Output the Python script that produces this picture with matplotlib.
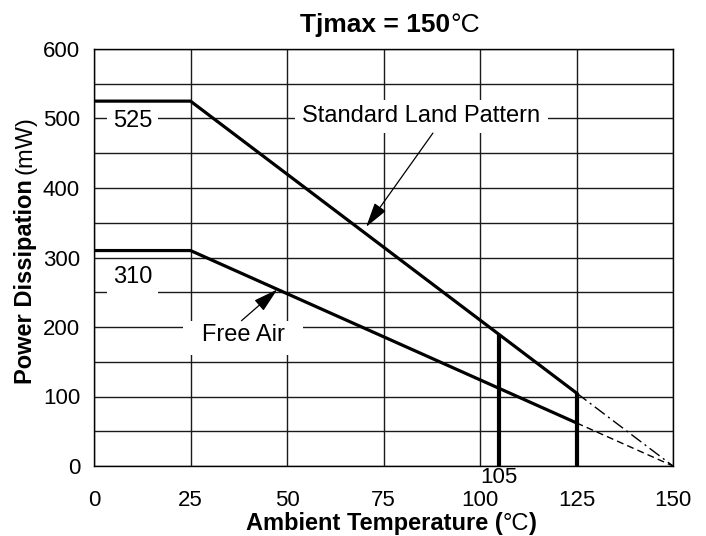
import matplotlib
matplotlib.use("Agg")
from matplotlib import pyplot as plt
from matplotlib.patches import Rectangle
from matplotlib.transforms import IdentityTransform

plt.rcParams['font.family'] = ['Liberation Sans', 'DejaVu Sans']

# Derating curves (ambient temperature in degC, power in mW)
std_temp = [0, 25, 125]
std_power = [525, 525, 105]
air_temp = [0, 25, 125]
air_power = [310, 310, 62]

# Extrapolated segments to Tjmax
std_ext_temp = [125, 150]
std_ext_power = [105, 0]
air_ext_temp = [125, 150]
air_ext_power = [62, 0]

# Vertical marker lines
marker_temp = [105, 125]
marker_top = [189, 105]

x_ticks = [0, 25, 50, 75, 100, 125, 150]
y_ticks = [0, 100, 200, 300, 400, 500, 600]

FS = 17
TICK_FS = 16


def rich_text(fig, x, y, parts, size, rotation=0):
    """
    Draw a run of text pieces (text, weight, gap_px) centred on pixel (x, y).
    Horizontal runs sit on baseline y; vertical runs are centred on column x.
    """
    renderer = fig.canvas.get_renderer()
    texts = []
    for s, weight, gap in parts:
        if rotation == 0:
            t = fig.text(0, 0, s, fontsize=size, fontweight=weight,
                         ha='left', va='baseline', transform=IdentityTransform())
        else:
            t = fig.text(0, 0, s, fontsize=size, fontweight=weight, rotation=90,
                         ha='center', va='bottom', transform=IdentityTransform())
        texts.append((t, gap))
    lengths = []
    for t, gap in texts:
        bb = t.get_window_extent(renderer)
        lengths.append((bb.width if rotation == 0 else bb.height) + gap)
    cur = (x if rotation == 0 else y) - sum(lengths) / 2
    for (t, gap), ln in zip(texts, lengths):
        cur += gap
        t.set_position((cur, y) if rotation == 0 else (x, cur))
        cur += ln - gap


fig = plt.figure(figsize=(7.06, 5.36), dpi=100)
ax = fig.add_axes([94 / 706, 1 - 466 / 536, 579 / 706, 417 / 536])

ax.set_xlim(0, 150)
ax.set_ylim(0, 600)
ax.set_xticks(x_ticks)
ax.set_yticks(y_ticks)
ax.set_yticks(range(50, 600, 100), minor=True)
ax.tick_params(axis='both', which='both', length=0, labelsize=TICK_FS)
ax.tick_params(axis='x', pad=17)
ax.tick_params(axis='y', pad=10)
ax.grid(True, which='both', color='#1a1a1a', linewidth=1.0, zorder=0)
ax.set_axisbelow(True)
for sp in ax.spines.values():
    sp.set_linewidth(1.0)

ax.plot(std_temp, std_power, color='black', linewidth=2.3, zorder=3)
ax.plot(air_temp, air_power, color='black', linewidth=2.3, zorder=3)
ax.plot(std_ext_temp, std_ext_power, color='black', linewidth=1.0,
        linestyle=(0, (9, 3, 1.5, 3)), zorder=3)
ax.plot(air_ext_temp, air_ext_power, color='black', linewidth=1.0,
        linestyle=(0, (5, 3)), zorder=3)
ax.vlines(marker_temp, 0, marker_top, color='black', linewidth=3.0, zorder=3)

box = dict(facecolor='white', edgecolor='none', pad=4)
ax.text(10, 496, "525", fontsize=FS, ha='center', va='center', bbox=box, zorder=2)
ax.text(10, 272, "310", fontsize=FS, ha='center', va='center', bbox=box, zorder=2)
ax.text(105, -16.5, "105", fontsize=TICK_FS, ha='center', va='center', clip_on=False)

# Label boxes that blank out the grid behind them
ax.add_patch(Rectangle((52.2, 479), 65.5, 47.5, facecolor='white',
                       edgecolor='none', zorder=1))
ax.add_patch(Rectangle((23.0, 160), 31.2, 49, facecolor='white',
                       edgecolor='none', zorder=1))
ax.text(84.8, 503, "Standard Land Pattern", fontsize=FS, ha='center',
        va='center', zorder=4)
ax.text(38.7, 188, "Free Air", fontsize=FS, ha='center', va='center', zorder=4)

arrow = dict(arrowstyle='-|>,head_length=0.9,head_width=0.25', color='black',
             linewidth=0.9, shrinkA=0, shrinkB=0, mutation_scale=FS)
ax.annotate("", xy=(70.5, 344), xytext=(87.8, 479), arrowprops=arrow, zorder=4)
ax.annotate("", xy=(47.5, 254), xytext=(38.2, 209), arrowprops=arrow, zorder=4)

# Title and axis labels: bold words with regular unit text
rich_text(fig, 390, 536 - 32, [("Tjmax = 150", 'bold', 0), ("°C", 'normal', 0)], 19)
rich_text(fig, 391, 536 - 530, [("Ambient Temperature (", 'bold', 0),
                                ("°C", 'normal', 0), (")", 'bold', 0)], FS)
rich_text(fig, 26, 536 - 250, [("Power Dissipation", 'bold', 0),
                               ("(mW)", 'normal', 5)], FS, rotation=90)

fig.savefig("out.png", dpi=100)
